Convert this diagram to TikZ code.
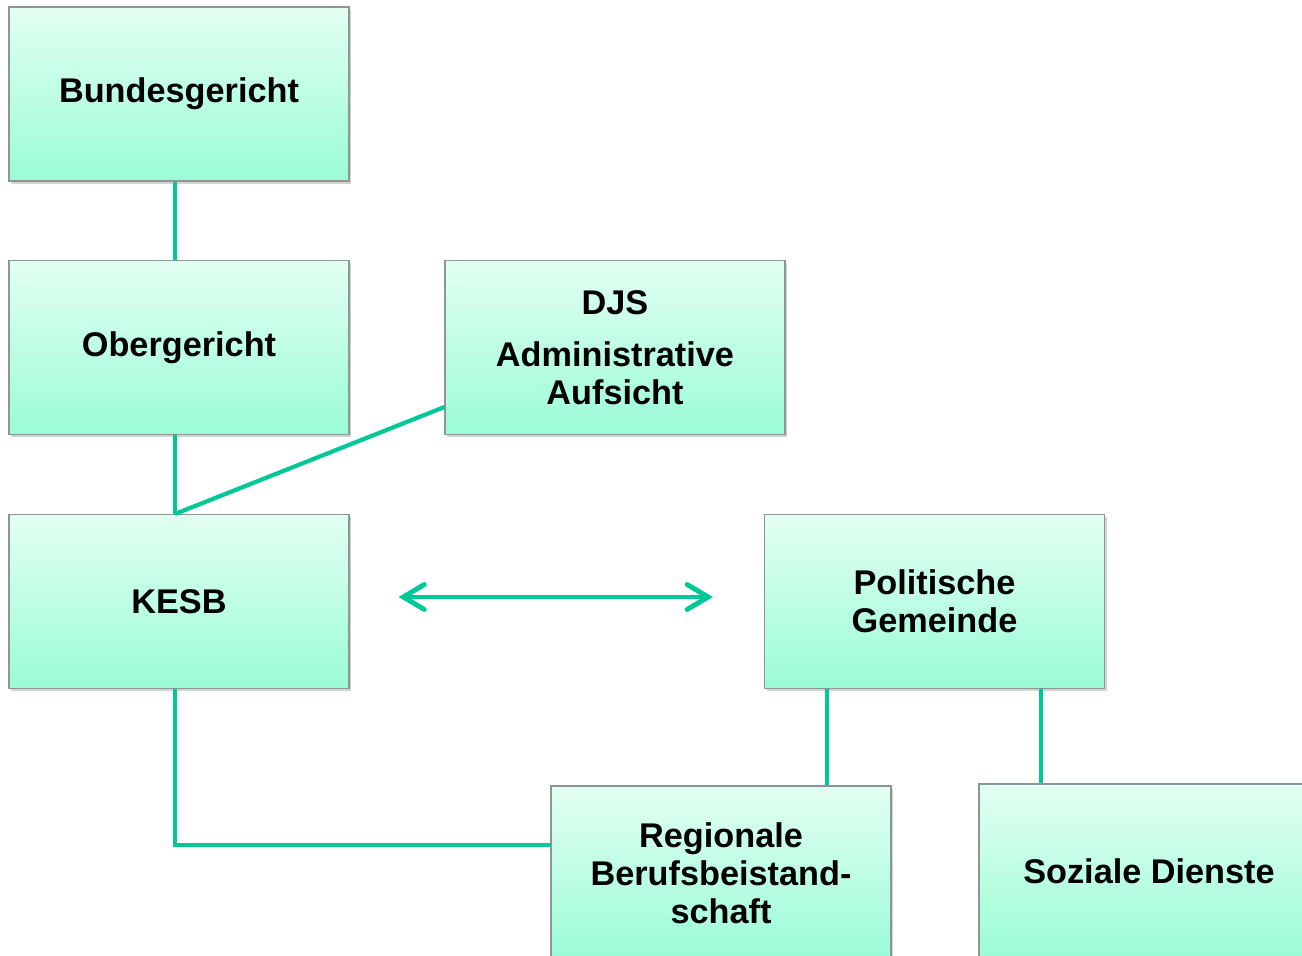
\documentclass[tikz,border=0pt]{standalone}
\usepackage{fontspec}
\setmainfont{Liberation Sans}
\usepackage{xcolor}
\usepackage{tikz}
\usetikzlibrary{arrows.meta, shadows}

\definecolor{boxtop}{RGB}{226,255,242}
\definecolor{boxbot}{RGB}{154,252,215}
\definecolor{boxline}{RGB}{140,150,148}
\definecolor{linkgreen}{RGB}{0,200,150}

\tikzset{
    orgbox/.style={draw=boxline, line width=0.6pt, top color=boxtop, bottom color=boxbot,
        minimum width=6.8cm, minimum height=3.48cm, align=center, inner sep=0pt,
        font=\fontsize{19.5}{21.5}\selectfont\bfseries,
        drop shadow={shadow xshift=1.2pt, shadow yshift=-1.5pt, opacity=0.35}},
    link/.style={draw=linkgreen, line width=2.4pt}
}

\begin{document}
\begin{tikzpicture}
    \useasboundingbox (0,0) rectangle (26.04,-19.12);
    % boxes
    \node[orgbox] (bund) at (3.58,-1.88) {Bundesgericht};
    \node[orgbox] (ober) at (3.58,-6.95) {Obergericht};
    \node[orgbox] (djs) at (12.3,-6.95) {DJS\\[0.3cm]Administrative\\Aufsicht};
    \node[orgbox] (kesb) at (3.58,-12.03) {KESB};
    \node[orgbox] (pol) at (18.69,-12.03) {Politische\\Gemeinde};
    \node[orgbox] (reg) at (14.42,-17.46) {Regionale\\Berufsbeistand-\\schaft};
    \node[orgbox] (soz) at (22.98,-17.42) {Soziale Dienste};
    % connections
    \draw[link] ([xshift=-0.08cm]bund.south) -- ([xshift=-0.08cm]ober.north);
    \draw[link] ([xshift=-0.08cm]ober.south) -- ([xshift=-0.08cm]kesb.north);
    \draw[link] ([yshift=-1.19cm]djs.west) -- ([xshift=-0.08cm]kesb.north);
    \draw[link] ([xshift=-0.08cm]kesb.south) |- ([yshift=0.56cm]reg.west);
    \draw[link] ([xshift=-2.15cm]pol.south) -- ([xshift=-2.15cm]pol.south |- reg.north);
    \draw[link] ([xshift=2.13cm]pol.south) -- ([xshift=2.13cm]pol.south |- soz.north);
    \draw[link, line width=2.8pt, {Straight Barb[length=0.42cm, width=0.5cm, line cap=round]}-{Straight Barb[length=0.42cm, width=0.5cm, line cap=round]}]
        ([xshift=0.98cm, yshift=0.09cm]kesb.east) -- ([xshift=-1.02cm, yshift=0.09cm]pol.west);
\end{tikzpicture}
\end{document}
